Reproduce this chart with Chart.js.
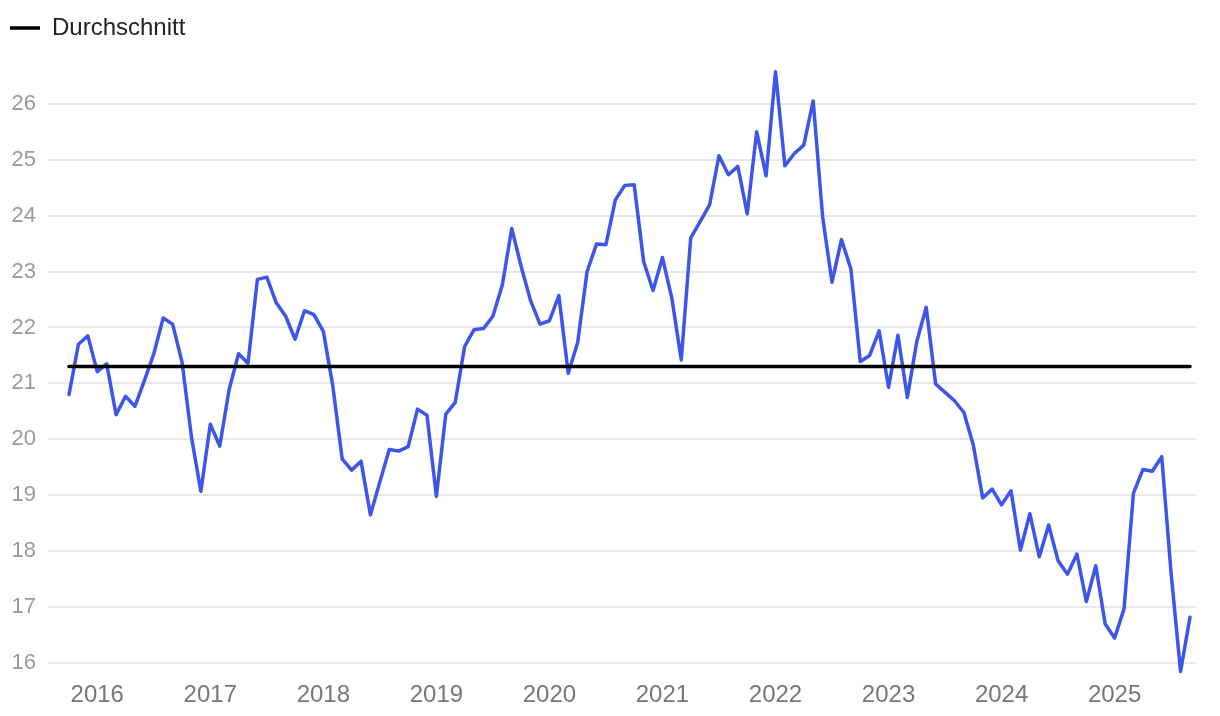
<!DOCTYPE html>
<html>
<head>
<meta charset="utf-8">
<script src="https://cdn.jsdelivr.net/npm/chart.js@4/dist/chart.umd.min.js"></script>
<style>
    html, body { margin: 0; padding: 0; background: #fff; }
    #wrap { width: 1220px; height: 716px; }
</style>
</head>
<body>
<div id="wrap"><canvas id="chart" width="1220" height="716"></canvas></div>
<script>
// Monatswerte ab Oktober 2015
const startYear = 2015;
const startMonth = 10;
const values = [
    20.80, 21.70, 21.85, 21.21, 21.35, 20.44, 20.77, 20.59, 21.05, 21.53,
    22.17, 22.06, 21.38, 20.04, 19.07, 20.27, 19.88, 20.89, 21.53, 21.36,
    22.86, 22.90, 22.44, 22.20, 21.79, 22.30, 22.23, 21.93, 20.96, 19.65,
    19.45, 19.61, 18.65, 19.24, 19.82, 19.79, 19.87, 20.54, 20.43, 18.98,
    20.45, 20.66, 21.66, 21.96, 21.98, 22.20, 22.76, 23.77, 23.09, 22.48,
    22.06, 22.12, 22.57, 21.18, 21.73, 23.00, 23.49, 23.48, 24.28, 24.54,
    24.55, 23.18, 22.66, 23.25, 22.52, 21.42, 23.60, 23.89, 24.19, 25.07,
    24.73, 24.88, 24.03, 25.50, 24.71, 26.57, 24.89, 25.11, 25.26, 26.05,
    23.98, 22.81, 23.57, 23.05, 21.39, 21.50, 21.94, 20.93, 21.86, 20.75,
    21.75, 22.36, 20.99, 20.84, 20.69, 20.48, 19.90, 18.95, 19.11, 18.83,
    19.08, 18.02, 18.67, 17.90, 18.47, 17.83, 17.59, 17.95, 17.10, 17.74,
    16.70, 16.45, 16.97, 19.04, 19.46, 19.43, 19.69, 17.60, 15.85, 16.82
];
const averageValue = 21.3;
const yearLabels = ['2016', '2017', '2018', '2019', '2020', '2021', '2022', '2023', '2024', '2025'];
const yTicks = [16, 17, 18, 19, 20, 21, 22, 23, 24, 25, 26];

// Index des Januars eines Jahres in der Reihe
function januaryIndex(year) {
    return (Number(year) - startYear) * 12 - (startMonth - 1);
}

Chart.defaults.font.family = "'Liberation Sans', Arial, sans-serif";

const ctx = document.getElementById('chart').getContext('2d');
const chart = new Chart(ctx, {
    type: 'line',
    data: {
        datasets: [
            {
                label: 'Durchschnitt',
                data: values.map((v, i) => ({ x: i, y: averageValue })),
                borderColor: '#000000',
                backgroundColor: '#000000',
                borderWidth: 3.5,
                borderCapStyle: 'round',
                pointRadius: 0,
                tension: 0,
                clip: false
            },
            {
                label: 'Wert',
                data: values.map((v, i) => ({ x: i, y: v })),
                borderColor: '#3c55eb',
                backgroundColor: '#3c55eb',
                borderWidth: 3.5,
                borderCapStyle: 'round',
                borderJoinStyle: 'round',
                pointRadius: 0,
                tension: 0,
                clip: false
            }
        ]
    },
    options: {
        responsive: false,
        animation: false,
        devicePixelRatio: 1,
        layout: { padding: { left: 0, right: 24, top: 6, bottom: 1 } },
        plugins: {
            tooltip: { enabled: false },
            legend: {
                display: true,
                position: 'top',
                align: 'start',
                labels: {
                    filter: item => item.datasetIndex === 0,
                    usePointStyle: true,
                    pointStyle: 'line',
                    pointStyleWidth: 30,
                    color: '#222222',
                    font: { size: 24 },
                    padding: 10
                }
            }
        },
        scales: {
            x: {
                type: 'linear',
                min: -2.23,
                max: 119.64,
                grid: { display: false },
                border: { display: false },
                afterBuildTicks: scale => {
                    scale.ticks = yearLabels.map(y => ({ value: januaryIndex(y) }));
                },
                ticks: {
                    autoSkip: false,
                    maxRotation: 0,
                    color: '#777777',
                    font: { size: 24 },
                    padding: 5,
                    callback: value => String(startYear + Math.floor((value + startMonth - 1) / 12))
                }
            },
            y: {
                min: 15.909,
                max: 26.96,
                grid: { color: '#e8e8e8', lineWidth: 2, drawTicks: false },
                border: { display: false },
                afterBuildTicks: scale => {
                    scale.ticks = yTicks.map(v => ({ value: v }));
                },
                afterFit: scale => {
                    scale.width = 48;
                },
                ticks: {
                    color: '#9a9a9a',
                    font: { size: 22 },
                    padding: 12
                }
            }
        }
    }
});
</script>
</body>
</html>
